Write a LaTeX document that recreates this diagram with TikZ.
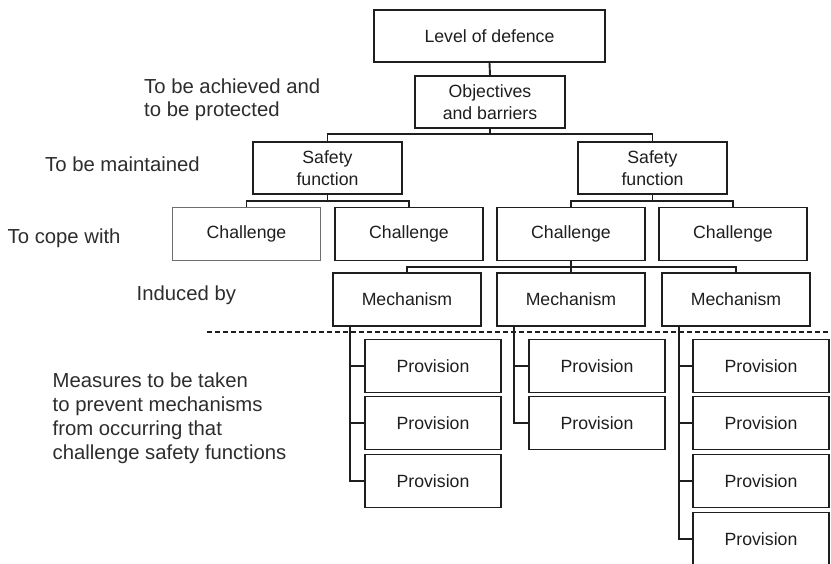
\documentclass[tikz,border=0pt]{standalone}
\usepackage{fontspec}
\setmainfont{Liberation Sans}
\definecolor{ink}{RGB}{30,30,30}
\definecolor{labelink}{RGB}{45,45,45}
\definecolor{softedge}{RGB}{110,110,110}
\begin{document}
\begin{tikzpicture}[x=1pt,y=-1pt,
  box/.style={draw=ink, line width=1.9pt, rectangle, inner sep=0pt,
    text=ink, align=center, font=\fontsize{17.7}{22}\selectfont},
  softbox/.style={box, draw=softedge, line width=1pt},
  wide/.style={minimum width=148pt, minimum height=53pt},
  provbox/.style={minimum width=136pt, minimum height=53pt},
  lbl/.style={anchor=base west, inner sep=0pt, text=labelink,
    font=\fontsize{20.3}{24}\selectfont},
  link/.style={draw=ink, line width=1.9pt},
  divider/.style={draw=ink, line width=1.2pt, dash pattern=on 5pt off 3pt}]
\useasboundingbox (0,0) rectangle (831,564);

% top of the hierarchy
\node[box, minimum width=231pt, minimum height=52pt] (lod) at (489.5,36) {Level of defence};
\node[box, minimum width=150pt, minimum height=52pt] (obj) at (490,102) {Objectives\\and barriers};

% safety functions
\node[box, minimum width=149pt, minimum height=52pt] (sf1) at (327.5,168) {Safety\\function};
\node[box, minimum width=149pt, minimum height=52pt] (sf2) at (652.5,168) {Safety\\function};

% challenges
\node[softbox, wide] (ch1) at (246.5,234) {Challenge};
\node[box, wide] (ch2) at (409,234) {Challenge};
\node[box, wide] (ch3) at (571,234) {Challenge};
\node[box, wide] (ch4) at (733,234) {Challenge};

% mechanisms
\node[box, wide] (me1) at (407,299.5) {Mechanism};
\node[box, wide] (me2) at (571,299.5) {Mechanism};
\node[box, wide] (me3) at (736,299.5) {Mechanism};

% provisions
\node[box, provbox] (p11) at (433,366) {Provision};
\node[box, provbox] (p12) at (433,423) {Provision};
\node[box, provbox] (p13) at (433,481) {Provision};
\node[box, provbox] (p21) at (597,366) {Provision};
\node[box, provbox] (p22) at (597,423) {Provision};
\node[box, provbox] (p31) at (761,366) {Provision};
\node[box, provbox] (p32) at (761,423) {Provision};
\node[box, provbox] (p33) at (761,481) {Provision};
\node[box, provbox] (p34) at (761,539) {Provision};

% junction points of the tree
\coordinate (j0) at (490,134);
\coordinate (j1) at (327.5,201);
\coordinate (j2) at (652.5,201);
\coordinate (j3) at (571,267);
\coordinate (t1) at ([xshift=18pt]me1.south west);
\coordinate (t2) at ([xshift=18pt]me2.south west);
\coordinate (t3) at ([xshift=18pt]me3.south west);

% connectors
\draw[link] (lod.south) -- (obj.north);
\draw[link] (obj.south) -- (j0);
\draw[link] (sf1.north) |- (j0) -| (sf2.north);
\draw[link] (sf1.south) -- (j1);
\draw[link] (ch1.north) |- (j1) -| (ch2.north);
\draw[link] (sf2.south) -- (j2);
\draw[link] (ch3.north) |- (j2) -| (ch4.north);
\draw[link] (ch3.south) -- (j3);
\draw[link] (me1.north) |- (j3) -| (me3.north);
\draw[link] (j3) -- (me2.north);

\draw[link] (t1) |- (p13.west);
\draw[link] (t1 |- p11.west) -- (p11.west);
\draw[link] (t1 |- p12.west) -- (p12.west);
\draw[link] (t2) |- (p22.west);
\draw[link] (t2 |- p21.west) -- (p21.west);
\draw[link] (t3) |- (p34.west);
\draw[link] (t3 |- p31.west) -- (p31.west);
\draw[link] (t3 |- p32.west) -- (p32.west);
\draw[link] (t3 |- p33.west) -- (p33.west);

% boundary between the upper levels and the measures
\coordinate (d0) at (207,332);
\coordinate (d1) at (831,332);
\draw[divider] (d0) -- (d1);

% level labels
\node[lbl] (la1) at (144,94) {To be achieved and};
\node[lbl] (la2) at (144,117) {to be protected};
\node[lbl] (lb) at (45,171.5) {To be maintained};
\node[lbl] (lc) at (7.5,244) {To cope with};
\node[lbl] (ld) at (136.5,301) {Induced by};
\node[lbl] (le1) at (52.5,387.3) {Measures to be taken};
\node[lbl] (le2) at (52.5,411.3) {to prevent mechanisms};
\node[lbl] (le3) at (52.5,435.3) {from occurring that};
\node[lbl] (le4) at (52.5,459.3) {challenge safety functions};
\end{tikzpicture}
\end{document}
